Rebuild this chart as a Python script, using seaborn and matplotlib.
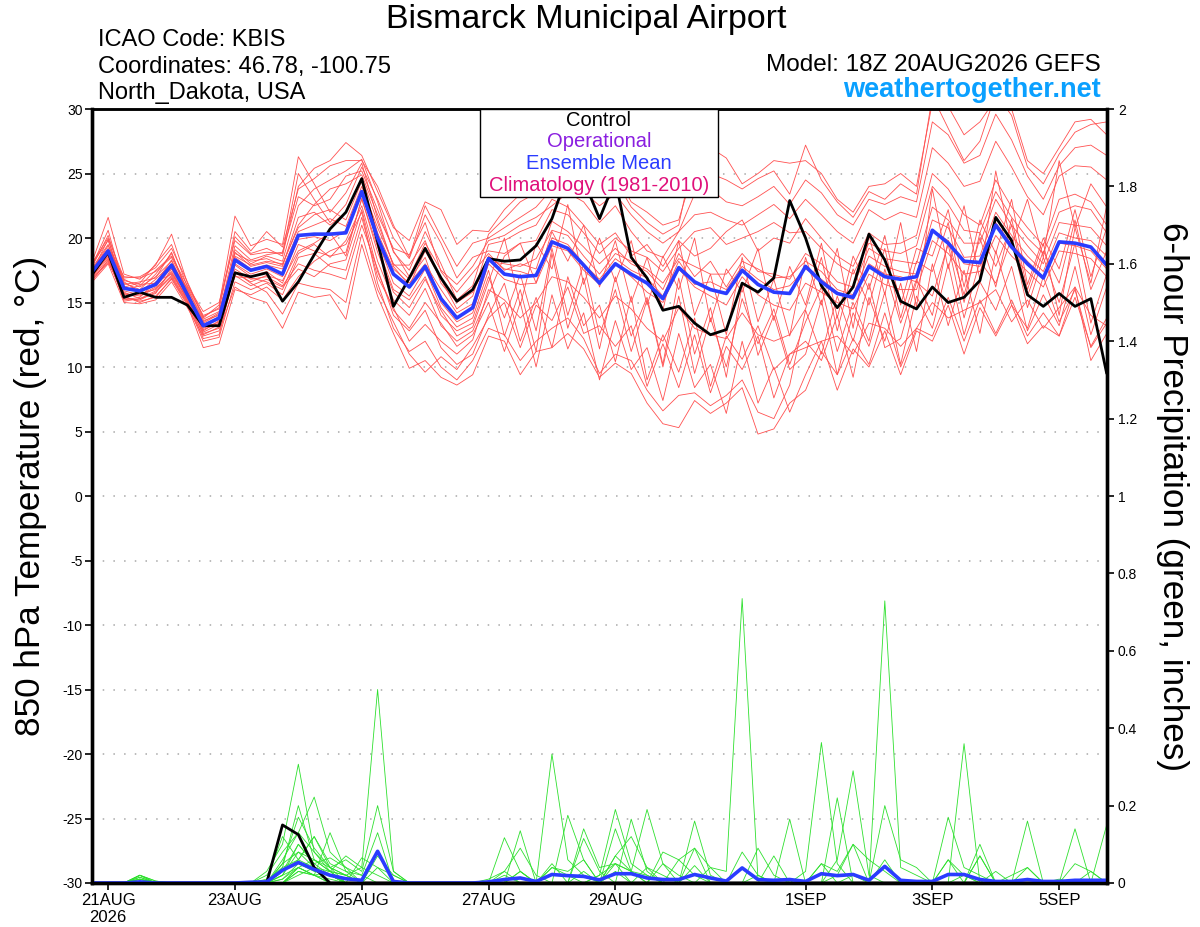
import matplotlib
matplotlib.use("Agg")
import matplotlib.pyplot as plt
from matplotlib.patches import Rectangle
import pandas as pd
import seaborn as sns

# ==========================================
# DATA (6-hourly steps, 20AUG 18Z -> 5SEP 18Z)
# ==========================================

steps = list(range(65))
tick_steps = [1, 9, 17, 25, 33, 45, 53, 61]
tick_labels = ["21AUG\n2026", "23AUG", "25AUG", "27AUG", "29AUG", "1SEP", "3SEP", "5SEP"]

temp_ticks = [30, 25, 20, 15, 10, 5, 0, -5, -10, -15, -20, -25, -30]
grid_levels = [25, 20, 15, 10, 5, 0, -5, -10, -15, -20, -25]
precip_ticks = [0, 0.2, 0.4, 0.6, 0.8, 1, 1.2, 1.4, 1.6, 1.8, 2]
precip_tick_labels = ["0", "0.2", "0.4", "0.6", "0.8", "1", "1.2", "1.4", "1.6", "1.8", "2"]

# control run, 850 hPa temperature (C)
control_temp = [17.2, 18.9, 15.4, 15.8, 15.4, 15.4, 14.8, 13.2, 13.2, 17.3, 17.0, 17.3, 15.1,
                16.6, 18.7, 20.7, 22.0, 24.6, 19.7, 14.7, 16.9, 19.2, 16.9, 15.1, 16.0,
                18.4, 18.2, 18.3, 19.4, 21.5, 25.0, 24.5, 21.5, 24.5, 18.5, 16.9, 14.4, 14.7,
                13.4, 12.5, 12.9, 16.5, 15.8, 16.9, 22.9, 20.0, 16.3, 14.6, 16.2, 20.3, 18.3,
                15.1, 14.5, 16.2, 15.0, 15.4, 16.7, 21.6, 19.8, 15.6, 14.7, 15.7, 14.7, 15.3, 9.5]

# ensemble mean, 850 hPa temperature (C)
mean_temp = [17.4, 19.0, 16.1, 15.9, 16.4, 17.9, 15.6, 13.2, 13.8, 18.3, 17.5, 17.8, 17.2,
             20.2, 20.3, 20.3, 20.4, 23.6, 20.0, 17.2, 16.2, 17.8, 15.3, 13.8, 14.6,
             18.4, 17.2, 17.0, 17.1, 19.7, 19.2, 17.9, 16.5, 18.0, 17.2, 16.5, 15.3, 17.7,
             16.6, 16.0, 15.7, 17.5, 16.4, 15.8, 15.7, 17.8, 16.6, 15.7, 15.4, 17.8, 17.0,
             16.8, 17.0, 20.6, 19.6, 18.2, 18.1, 21.0, 19.3, 18.0, 16.9, 19.7, 19.6, 19.3, 17.9]

# ensemble members, 850 hPa temperature (C)
t01 = [17.8, 20.2, 16.5, 16.0, 17.2, 18.8, 15.9, 13.0, 13.5, 19.1, 18.0, 18.6, 18.2,
       22.5, 23.8, 24.5, 25.2, 26.1, 22.8, 18.9, 17.5, 20.5, 18.0, 15.2, 16.3,
       20.3, 21.5, 22.8, 23.5, 24.8, 26.5, 25.4, 23.2, 24.5, 22.4, 21.2, 20.3, 21.0, 26.8, 25.0, 24.5, 23.8, 24.6, 25.2, 23.4,
       27.2, 24.5, 22.8, 21.6, 23.6, 23.0, 24.2, 23.4, 31.0, 28.5, 26.0, 27.5, 31.2, 29.5, 25.5, 24.2, 26.5, 28.2, 28.8, 29.0]
t02 = [17.0, 18.4, 15.3, 15.2, 15.8, 17.0, 15.0, 12.6, 13.0, 17.6, 16.8, 17.0, 16.3,
       18.0, 17.5, 17.2, 16.8, 21.0, 17.6, 14.0, 12.8, 14.4, 11.5, 10.2, 11.0,
       14.0, 16.5, 12.0, 15.4, 11.5, 17.0, 13.2, 14.8, 10.4, 15.5, 9.0, 12.5, 9.6, 13.8, 8.5, 12.4, 10.6, 13.2, 9.8, 11.0,
       12.0, 10.5, 14.0, 9.2, 15.4, 12.0, 16.5, 11.2, 18.0, 13.2, 17.5, 12.6, 19.0, 14.8, 13.0, 17.0, 13.5, 16.0, 11.5, 13.4]
t03 = [18.2, 21.6, 17.2, 16.8, 17.9, 20.3, 16.5, 13.8, 14.8, 21.7, 19.4, 19.9, 19.5,
       26.3, 24.2, 22.0, 23.5, 25.8, 21.5, 17.8, 16.3, 19.0, 16.8, 14.5, 15.5,
       19.5, 19.8, 20.5, 21.0, 23.0, 22.4, 21.0, 19.5, 20.4, 18.6, 19.5, 17.8, 19.8, 18.6, 19.2, 20.5, 21.4, 19.0, 20.0, 19.6,
       21.5, 20.0, 18.6, 17.8, 20.4, 19.5, 19.6, 20.2, 25.0, 23.8, 21.8, 21.0, 24.5, 22.4, 20.8, 19.4, 23.0, 23.4, 22.8, 21.0]
t04 = [16.6, 18.0, 15.0, 14.9, 15.2, 16.6, 14.6, 12.4, 12.8, 16.2, 15.4, 15.0, 13.0,
       15.8, 15.4, 15.6, 13.7, 19.5, 15.5, 12.6, 9.9, 10.5, 9.2, 8.6, 9.4,
       12.4, 12.0, 9.4, 11.2, 11.5, 12.6, 11.4, 9.2, 10.3, 9.5, 7.2, 5.6, 5.3, 7.4, 6.4, 7.2, 8.4, 4.8, 5.2, 7.2,
       8.2, 11.2, 9.4, 12.2, 10.2, 14.2, 10.0, 13.0, 12.4, 15.4, 12.0, 15.2, 12.6, 15.2, 12.4, 14.2, 12.4, 16.2, 10.5, 12.6]
t05 = [17.5, 19.4, 16.8, 16.2, 17.0, 18.2, 15.8, 13.5, 14.2, 18.8, 18.2, 18.4, 17.9,
       21.0, 22.6, 23.8, 24.2, 24.9, 21.8, 19.2, 18.7, 21.2, 17.4, 15.8, 17.3,
       18.8, 17.5, 18.0, 17.6, 21.3, 20.5, 19.3, 18.0, 19.2, 18.0, 17.4, 16.0, 18.8, 17.0, 18.2, 16.2, 18.2, 17.6, 16.9, 17.0,
       18.2, 17.4, 16.0, 15.6, 18.6, 17.8, 17.4, 17.2, 21.4, 20.8, 18.5, 18.6, 22.0, 20.2, 18.6, 17.4, 20.4, 20.0, 19.8, 18.6]
t06 = [17.3, 18.8, 15.6, 15.7, 16.0, 17.4, 15.2, 12.9, 13.4, 17.9, 17.0, 17.4, 16.5,
       19.5, 19.0, 18.6, 18.9, 23.0, 19.3, 16.0, 15.2, 17.0, 14.0, 12.8, 13.4,
       17.0, 13.8, 17.2, 12.8, 19.2, 14.0, 18.0, 12.5, 16.0, 11.2, 15.2, 10.0, 15.5, 9.5, 13.8, 10.0, 15.3, 11.8, 14.5, 10.2,
       13.5, 16.2, 11.2, 15.0, 12.0, 17.6, 13.4, 16.8, 14.0, 19.8, 15.6, 20.0, 16.2, 21.5, 16.0, 19.6, 14.0, 20.8, 16.5, 22.5]
t07 = [17.9, 20.6, 16.2, 16.5, 18.0, 19.5, 16.2, 14.0, 14.5, 20.1, 18.8, 19.2, 18.6,
       24.0, 25.4, 26.0, 27.4, 26.4, 23.6, 20.8, 19.8, 22.8, 22.2, 19.5, 20.6,
       20.5, 22.2, 23.4, 24.0, 25.1, 26.8, 25.8, 24.0, 25.0, 22.8, 22.0, 21.0, 21.4, 25.5, 27.0, 26.2, 24.2, 25.0, 26.0, 25.8,
       26.0, 25.0, 23.0, 22.0, 24.0, 24.2, 25.0, 24.0, 30.5, 30.2, 28.0, 29.0, 30.8, 30.0, 26.0, 25.0, 27.0, 29.0, 29.2, 28.0]
t08 = [16.9, 18.2, 15.5, 15.0, 15.5, 16.8, 14.8, 11.5, 11.8, 16.0, 15.6, 16.2, 15.2,
       17.0, 18.2, 19.0, 19.5, 22.0, 16.5, 13.0, 11.2, 12.0, 10.0, 9.0, 10.5,
       13.0, 12.5, 10.5, 12.0, 13.0, 13.8, 12.2, 9.5, 11.0, 10.5, 8.2, 6.6, 7.8, 8.0, 7.0, 7.8, 9.0, 6.5, 6.0, 8.6,
       14.4, 11.0, 15.5, 12.0, 16.5, 11.5, 12.2, 16.6, 15.5, 19.5, 13.8, 18.2, 16.5, 20.0, 14.6, 18.5, 15.0, 19.6, 13.4, 17.2]
t09 = [17.6, 19.2, 17.0, 16.9, 17.4, 18.5, 16.0, 13.6, 14.0, 18.5, 17.6, 17.9, 17.6,
       20.5, 21.0, 21.5, 20.9, 24.0, 20.8, 18.0, 16.8, 18.5, 15.0, 13.5, 14.2,
       18.0, 16.8, 16.4, 16.5, 19.4, 19.0, 17.5, 16.4, 18.0, 17.0, 15.8, 15.0, 17.6, 16.2, 15.5, 14.8, 17.0, 15.6, 14.8, 14.4,
       16.5, 15.8, 15.0, 14.5, 17.2, 16.4, 16.0, 16.0, 19.8, 18.8, 17.2, 17.4, 20.2, 18.6, 17.4, 16.2, 19.0, 18.8, 18.4, 17.0]
t10 = [17.1, 18.6, 15.2, 15.4, 16.6, 17.2, 15.3, 12.8, 13.6, 17.0, 16.9, 16.6, 16.0,
       18.8, 19.5, 18.5, 19.8, 22.5, 18.2, 15.2, 14.0, 16.1, 13.2, 12.0, 12.8,
       15.6, 18.6, 19.6, 16.5, 20.5, 18.2, 21.0, 16.2, 19.8, 15.0, 18.5, 14.4, 19.8, 14.0, 17.2, 12.5, 18.5, 13.5, 16.8, 12.4,
       18.5, 14.8, 19.2, 13.0, 20.2, 15.6, 21.2, 14.6, 23.8, 17.6, 22.5, 16.8, 25.2, 19.4, 23.0, 18.5, 26.0, 20.8, 24.2, 22.4]
t11 = [18.0, 19.8, 16.4, 16.6, 16.9, 18.9, 15.7, 13.4, 14.1, 19.4, 18.3, 18.7, 18.9,
       23.2, 22.5, 23.0, 24.8, 25.2, 22.2, 19.0, 17.0, 19.6, 17.5, 16.4, 17.8,
       19.8, 20.2, 21.0, 21.6, 22.5, 23.5, 22.8, 21.2, 22.5, 20.5, 19.0, 18.5, 20.5, 21.8, 22.0, 21.4, 21.0, 21.8, 22.6, 21.5,
       23.0, 21.8, 20.5, 19.6, 22.2, 21.4, 22.0, 21.6, 27.0, 25.8, 24.0, 24.4, 27.5, 25.5, 23.2, 21.8, 24.8, 25.6, 25.5, 24.5]
t12 = [16.8, 18.1, 15.8, 15.3, 15.7, 17.6, 15.1, 12.2, 12.5, 17.4, 16.5, 15.8, 14.1,
       16.5, 16.2, 16.0, 15.0, 20.3, 16.0, 13.5, 11.0, 9.6, 10.8, 9.8, 11.6,
       13.8, 15.0, 11.5, 14.8, 13.6, 16.2, 12.6, 13.2, 11.6, 13.2, 8.5, 11.8, 8.4, 12.5, 8.0, 11.6, 9.8, 12.4, 7.6, 11.0,
       11.5, 12.0, 12.4, 11.0, 13.4, 13.0, 11.6, 13.0, 15.0, 13.8, 14.4, 15.0, 16.0, 13.5, 15.2, 13.0, 14.6, 16.2, 14.0, 13.2]
t13 = [17.7, 19.5, 16.6, 15.8, 16.8, 18.0, 16.1, 13.7, 14.3, 18.6, 17.9, 18.2, 18.0,
       20.8, 21.8, 22.2, 21.4, 24.4, 20.4, 17.6, 16.5, 18.0, 16.0, 14.2, 14.9,
       18.6, 17.6, 17.4, 17.0, 20.0, 19.5, 18.0, 16.8, 18.4, 17.5, 16.9, 15.5, 18.2, 16.4, 16.6, 16.0, 17.8, 16.8, 16.0, 16.3,
       17.6, 16.8, 15.8, 15.2, 18.0, 17.2, 17.0, 16.6, 20.6, 19.8, 18.0, 17.8, 21.2, 19.5, 18.2, 17.0, 19.6, 19.4, 19.0, 17.6]
t14 = [17.2, 18.9, 15.9, 15.6, 16.2, 17.7, 15.5, 13.1, 13.9, 18.0, 17.2, 17.6, 17.0,
       19.9, 20.1, 19.8, 20.6, 23.4, 19.8, 16.5, 15.5, 17.6, 14.6, 13.1, 13.8,
       17.5, 12.4, 16.0, 11.2, 18.8, 13.0, 16.9, 11.4, 17.0, 12.4, 15.4, 10.2, 16.9, 11.0, 14.6, 9.2, 16.4, 10.9, 14.0, 9.8,
       11.0, 15.2, 9.4, 14.2, 11.6, 15.8, 10.2, 15.5, 13.0, 18.0, 12.5, 16.6, 14.4, 17.8, 12.8, 15.6, 13.2, 17.8, 12.5, 16.2]
t15 = [17.4, 19.9, 16.0, 16.3, 17.5, 18.6, 16.3, 14.3, 15.0, 19.8, 18.7, 18.9, 18.8,
       25.0, 23.0, 21.2, 22.6, 25.5, 23.0, 20.0, 18.4, 21.8, 19.6, 16.9, 18.5,
       19.0, 18.8, 19.6, 19.8, 22.2, 21.8, 20.4, 18.8, 20.0, 19.0, 18.5, 17.4, 19.2, 20.5, 20.8, 19.5, 20.0, 20.5, 21.2, 20.4,
       20.5, 19.2, 18.0, 17.2, 19.6, 19.0, 18.8, 19.4, 24.0, 22.6, 20.6, 20.4, 23.6, 21.6, 20.0, 18.8, 22.0, 22.5, 22.2, 20.4]
t16 = [16.7, 18.3, 15.4, 15.1, 15.4, 16.9, 14.9, 12.0, 12.3, 16.6, 16.0, 16.5, 15.6,
       18.5, 18.8, 17.8, 17.5, 21.6, 17.0, 14.6, 12.0, 13.3, 12.0, 11.0, 12.1,
       16.0, 15.2, 13.8, 15.0, 17.0, 16.6, 15.4, 13.8, 15.5, 14.5, 13.0, 12.0, 14.6, 13.0, 12.5, 12.2, 14.2, 12.5, 12.0, 12.5,
       14.5, 18.5, 12.8, 17.6, 14.8, 19.2, 13.8, 18.2, 17.4, 21.2, 15.0, 20.4, 17.8, 21.0, 15.5, 19.0, 16.5, 21.4, 16.0, 19.0]
t17 = [17.6, 19.1, 16.7, 16.4, 16.5, 18.3, 15.6, 13.3, 13.7, 18.9, 17.8, 18.1, 17.8,
       21.6, 22.0, 21.0, 22.0, 24.7, 21.2, 17.9, 17.9, 19.8, 16.5, 15.0, 15.8,
       18.2, 18.0, 17.8, 18.4, 20.6, 20.2, 18.6, 17.2, 18.8, 18.2, 17.6, 16.5, 18.4, 17.8, 17.2, 17.2, 18.8, 17.4, 17.2, 16.8,
       18.8, 18.0, 16.6, 16.2, 19.2, 18.4, 18.2, 18.0, 22.4, 21.4, 19.6, 19.6, 23.0, 21.0, 19.4, 18.0, 21.2, 21.0, 20.8, 19.4]
t18 = [17.0, 18.7, 15.7, 15.5, 16.1, 17.3, 15.4, 12.7, 13.3, 17.3, 16.6, 17.1, 16.7,
       19.0, 19.6, 20.4, 18.6, 23.1, 18.9, 15.8, 14.6, 16.8, 14.4, 12.4, 13.1,
       16.6, 20.0, 14.8, 19.6, 17.6, 22.6, 16.4, 20.0, 16.6, 19.8, 14.8, 18.6, 16.0, 20.0, 13.5, 17.6, 15.8, 19.2, 13.6, 17.8,
       14.8, 19.6, 13.8, 18.6, 16.0, 20.2, 14.8, 19.2, 18.6, 22.2, 16.2, 21.4, 18.8, 23.0, 16.4, 20.0, 17.6, 22.2, 17.0, 20.8]
t19 = [18.1, 20.0, 16.9, 17.0, 17.7, 19.2, 16.6, 13.9, 14.6, 20.5, 19.0, 20.5, 19.3,
       23.8, 24.6, 25.6, 26.0, 26.0, 24.0, 21.0, 18.5, 22.5, 20.1, 17.8, 19.6,
       20.0, 20.8, 21.6, 22.4, 23.8, 25.0, 23.6, 22.5, 23.4, 21.8, 20.5, 19.6, 20.5, 23.4, 23.8, 22.8, 22.5, 23.2, 24.0, 22.6,
       24.5, 23.5, 21.8, 21.0, 23.0, 22.6, 23.2, 22.8, 29.0, 28.0, 25.8, 26.4, 29.6, 27.6, 24.8, 23.0, 25.6, 27.0, 27.2, 26.4]
t20 = [17.3, 18.5, 15.1, 15.3, 15.9, 17.1, 15.1, 12.5, 13.1, 17.1, 16.3, 16.8, 16.2,
       17.6, 17.0, 18.0, 18.3, 22.2, 17.4, 14.4, 13.0, 15.0, 13.4, 11.6, 12.5,
       15.0, 11.2, 15.0, 10.0, 15.6, 11.4, 14.2, 9.0, 13.6, 9.8, 11.5, 7.4, 12.6, 8.4, 10.2, 6.4, 12.0, 7.2, 10.0, 6.5,
       9.4, 12.0, 8.2, 11.4, 10.0, 12.8, 9.4, 12.8, 12.0, 14.8, 11.0, 14.6, 12.4, 14.8, 11.8, 13.2, 12.4, 15.4, 11.6, 13.8]

temp_members = [t01, t02, t03, t04, t05, t06, t07, t08, t09, t10,
                t11, t12, t13, t14, t15, t16, t17, t18, t19, t20]

# control run, 6-hour precipitation (inches)
control_precip = [0, 0, 0, 0, 0, 0, 0, 0, 0, 0, 0, 0, 0.15,
                  0.125, 0.04, 0, 0, 0, 0, 0, 0, 0, 0, 0, 0, 0,
                  0, 0, 0, 0, 0, 0, 0, 0, 0, 0, 0, 0, 0,
                  0, 0, 0, 0, 0, 0, 0, 0, 0, 0, 0, 0, 0,
                  0, 0, 0, 0, 0, 0, 0, 0, 0, 0, 0, 0, 0]

# ensemble mean, 6-hour precipitation (inches)
mean_precip = [0, 0, 0, 0.003, 0, 0, 0, 0, 0, 0, 0.002, 0.003, 0.033,
               0.053, 0.035, 0.02, 0.011, 0.007, 0.082, 0.004, 0, 0, 0, 0, 0, 0.003,
               0.009, 0.013, 0.004, 0.022, 0.019, 0.017, 0.008, 0.024, 0.024, 0.013, 0.009, 0.009, 0.022,
               0.013, 0.005, 0.039, 0.009, 0.007, 0.009, 0.004, 0.024, 0.019, 0.022, 0.007, 0.043, 0.007,
               0.004, 0.004, 0.022, 0.022, 0.009, 0.004, 0.004, 0.009, 0.004, 0.004, 0.007, 0.007, 0.007]

# ensemble members, 6-hour precipitation (inches)
p01 = [0, 0, 0, 0.02, 0.005, 0, 0, 0, 0, 0, 0, 0.01, 0.12,
       0.06, 0.04, 0.02, 0, 0, 0.04, 0, 0, 0, 0, 0, 0, 0,
       0, 0.03, 0, 0.333, 0.06, 0.02, 0, 0.05, 0.03, 0, 0, 0, 0.045,
       0, 0, 0.08, 0.02, 0, 0, 0, 0.05, 0, 0, 0, 0.06, 0,
       0, 0, 0.06, 0, 0, 0, 0, 0.04, 0, 0, 0, 0, 0]
p02 = [0, 0, 0, 0.015, 0, 0, 0, 0, 0, 0, 0, 0, 0.05,
       0.08, 0.06, 0.03, 0.02, 0, 0, 0, 0, 0, 0, 0, 0, 0,
       0, 0, 0, 0.04, 0.03, 0.06, 0, 0.07, 0.12, 0.04, 0, 0, 0,
       0, 0, 0, 0, 0, 0, 0, 0, 0.06, 0.29, 0.02, 0, 0,
       0, 0, 0, 0, 0.07, 0, 0, 0, 0, 0, 0, 0.03, 0]
p03 = [0, 0, 0, 0.02, 0, 0, 0, 0, 0, 0, 0, 0.02, 0.08,
       0.13, 0.08, 0.04, 0.02, 0.04, 0.5, 0.03, 0, 0, 0, 0, 0, 0,
       0, 0, 0, 0, 0, 0, 0.02, 0.05, 0, 0, 0, 0, 0,
       0, 0, 0, 0.09, 0.02, 0, 0, 0, 0, 0, 0, 0, 0,
       0, 0, 0, 0, 0, 0, 0, 0, 0, 0, 0, 0, 0]
p04 = [0, 0, 0, 0.01, 0, 0, 0, 0, 0, 0, 0, 0, 0.03,
       0.1, 0.05, 0.065, 0.04, 0, 0.07, 0.02, 0, 0, 0, 0, 0, 0,
       0, 0, 0, 0.05, 0, 0.03, 0, 0.14, 0.03, 0.19, 0.05, 0, 0,
       0, 0, 0, 0, 0, 0, 0, 0, 0, 0.02, 0, 0, 0,
       0, 0, 0, 0.02, 0, 0, 0, 0.16, 0, 0, 0, 0, 0]
p05 = [0, 0, 0, 0.02, 0.005, 0, 0, 0, 0, 0, 0, 0.005, 0.04,
       0.06, 0.12, 0.05, 0.03, 0.02, 0.13, 0, 0, 0, 0, 0, 0, 0,
       0, 0, 0, 0, 0, 0, 0, 0, 0, 0, 0, 0, 0.09,
       0.04, 0.03, 0.735, 0.01, 0, 0, 0, 0, 0, 0, 0, 0, 0,
       0, 0, 0, 0, 0, 0, 0, 0, 0, 0.01, 0, 0, 0]
p06 = [0, 0, 0, 0.01, 0, 0, 0, 0, 0, 0, 0, 0, 0,
       0.04, 0.02, 0, 0, 0.065, 0.04, 0.02, 0, 0, 0, 0, 0, 0,
       0, 0.03, 0, 0, 0, 0, 0, 0.07, 0.03, 0, 0.05, 0.02, 0,
       0, 0, 0, 0, 0, 0, 0, 0.05, 0.03, 0.1, 0, 0.2, 0.06,
       0.04, 0, 0, 0, 0, 0, 0, 0, 0, 0, 0.14, 0, 0]
p07 = [0, 0, 0, 0.015, 0, 0, 0, 0, 0, 0, 0, 0.03, 0.1,
       0.307, 0.08, 0.03, 0.02, 0, 0, 0, 0, 0, 0, 0, 0, 0,
       0.03, 0.09, 0.02, 0, 0, 0, 0, 0, 0, 0, 0.08, 0.06, 0.09,
       0, 0, 0, 0, 0.07, 0, 0, 0, 0, 0, 0, 0, 0,
       0, 0, 0, 0, 0, 0, 0, 0, 0, 0, 0, 0, 0]
p08 = [0, 0, 0, 0, 0, 0, 0, 0, 0, 0, 0, 0, 0.02,
       0.04, 0.06, 0.03, 0.07, 0.04, 0.02, 0, 0, 0, 0, 0, 0, 0,
       0, 0, 0, 0, 0, 0, 0, 0, 0, 0, 0, 0, 0,
       0.04, 0, 0, 0, 0, 0, 0.03, 0.363, 0.05, 0, 0, 0, 0,
       0, 0, 0, 0, 0, 0, 0, 0, 0, 0, 0, 0, 0]
p09 = [0, 0, 0, 0, 0, 0, 0, 0, 0, 0, 0, 0, 0.06,
       0.13, 0.222, 0.08, 0.04, 0.02, 0, 0, 0, 0, 0, 0, 0, 0,
       0, 0, 0, 0.04, 0.02, 0, 0, 0.03, 0, 0, 0, 0, 0,
       0, 0, 0, 0, 0, 0, 0, 0, 0, 0, 0, 0, 0,
       0, 0, 0.06, 0.02, 0, 0, 0, 0, 0, 0, 0, 0, 0.15]
p10 = [0, 0, 0, 0.01, 0, 0, 0, 0, 0, 0, 0, 0, 0.02,
       0.08, 0.04, 0.02, 0, 0, 0, 0, 0, 0, 0, 0, 0, 0,
       0.02, 0, 0, 0, 0, 0, 0.02, 0.19, 0.05, 0.02, 0, 0, 0,
       0, 0, 0, 0, 0, 0, 0, 0, 0.02, 0.1, 0.06, 0.03, 0,
       0, 0, 0, 0, 0, 0, 0, 0, 0, 0, 0, 0, 0]
p11 = [0, 0, 0, 0, 0, 0, 0, 0, 0, 0, 0, 0, 0,
       0.02, 0.04, 0.03, 0, 0, 0, 0, 0, 0, 0, 0, 0, 0,
       0, 0, 0, 0, 0, 0, 0, 0, 0, 0, 0, 0, 0,
       0, 0, 0, 0, 0, 0, 0, 0, 0, 0, 0, 0.729, 0.04,
       0.02, 0, 0, 0, 0, 0, 0, 0, 0, 0, 0, 0, 0]
p12 = [0, 0, 0, 0.02, 0, 0, 0, 0, 0, 0, 0, 0, 0.04,
       0.2, 0.06, 0.04, 0, 0, 0, 0, 0, 0, 0, 0, 0, 0,
       0, 0, 0, 0, 0, 0, 0, 0, 0, 0, 0, 0, 0.16,
       0.02, 0, 0, 0, 0, 0, 0, 0, 0, 0, 0, 0, 0,
       0, 0, 0, 0, 0, 0, 0.02, 0.04, 0, 0, 0, 0, 0]
p13 = [0, 0, 0, 0, 0, 0, 0, 0, 0, 0, 0, 0, 0.03,
       0.06, 0.12, 0.04, 0.02, 0, 0, 0, 0, 0, 0, 0, 0, 0.01,
       0.03, 0, 0, 0, 0.175, 0.06, 0, 0, 0, 0, 0, 0, 0,
       0, 0, 0, 0, 0, 0, 0, 0, 0, 0, 0, 0, 0,
       0, 0, 0, 0, 0, 0.03, 0, 0, 0, 0, 0, 0, 0]
p14 = [0, 0, 0, 0, 0, 0, 0, 0, 0, 0, 0, 0, 0.01,
       0.04, 0.02, 0, 0, 0, 0.08, 0, 0, 0, 0, 0, 0, 0,
       0, 0, 0, 0, 0, 0, 0, 0, 0, 0.04, 0.02, 0, 0,
       0, 0, 0, 0.02, 0, 0, 0, 0, 0, 0, 0, 0, 0,
       0, 0, 0, 0.36, 0, 0, 0, 0, 0, 0, 0, 0, 0]
p15 = [0, 0, 0, 0.01, 0, 0, 0, 0, 0, 0, 0, 0, 0.05,
       0.17, 0.09, 0.04, 0.06, 0.03, 0.2, 0.03, 0, 0, 0, 0, 0, 0,
       0.117, 0.03, 0, 0, 0, 0, 0, 0, 0, 0, 0, 0, 0,
       0, 0, 0, 0, 0, 0, 0, 0, 0, 0, 0, 0, 0,
       0, 0, 0, 0, 0, 0, 0, 0, 0, 0, 0, 0, 0]
p16 = [0, 0, 0, 0, 0, 0, 0, 0, 0, 0, 0, 0, 0,
       0.04, 0.02, 0.03, 0, 0, 0, 0, 0, 0, 0, 0, 0, 0,
       0, 0, 0, 0, 0, 0.115, 0.03, 0, 0, 0, 0, 0, 0,
       0, 0, 0, 0, 0, 0, 0, 0, 0.22, 0, 0, 0, 0,
       0, 0, 0, 0, 0, 0, 0, 0, 0, 0, 0, 0, 0]
p17 = [0, 0, 0, 0, 0, 0, 0, 0, 0, 0, 0, 0, 0.02,
       0.1, 0.05, 0.02, 0, 0, 0, 0, 0, 0, 0, 0, 0, 0,
       0, 0, 0, 0, 0, 0.14, 0.04, 0.05, 0.03, 0.02, 0, 0.06, 0.02,
       0, 0, 0, 0, 0, 0, 0, 0, 0, 0, 0, 0, 0,
       0, 0, 0, 0, 0.1, 0, 0, 0, 0, 0, 0, 0, 0]
p18 = [0, 0, 0, 0, 0, 0, 0, 0, 0, 0, 0, 0, 0.01,
       0.05, 0.03, 0.02, 0, 0, 0, 0, 0, 0, 0, 0, 0, 0,
       0, 0.135, 0, 0, 0, 0, 0, 0, 0, 0, 0, 0, 0,
       0, 0, 0, 0, 0, 0, 0, 0, 0, 0, 0, 0, 0,
       0, 0, 0.17, 0.04, 0.02, 0, 0, 0, 0, 0, 0, 0, 0]
p19 = [0, 0, 0, 0, 0, 0, 0, 0, 0, 0, 0, 0, 0,
       0.03, 0.02, 0.01, 0, 0, 0, 0, 0, 0, 0, 0, 0, 0,
       0, 0, 0, 0, 0, 0, 0, 0, 0.165, 0.03, 0, 0, 0,
       0, 0, 0, 0, 0, 0, 0, 0, 0, 0, 0, 0, 0,
       0, 0, 0, 0, 0.07, 0, 0, 0, 0, 0, 0.05, 0.03, 0]
p20 = [0, 0, 0, 0, 0, 0, 0, 0, 0, 0, 0, 0, 0,
       0.03, 0.02, 0.13, 0.03, 0, 0, 0, 0, 0, 0, 0, 0, 0,
       0, 0, 0, 0, 0, 0, 0, 0, 0, 0, 0, 0, 0,
       0, 0, 0, 0, 0, 0.165, 0, 0, 0, 0, 0, 0, 0,
       0, 0, 0, 0, 0, 0, 0, 0, 0, 0, 0, 0, 0]

precip_members = [p01, p02, p03, p04, p05, p06, p07, p08, p09, p10,
                  p11, p12, p13, p14, p15, p16, p17, p18, p19, p20]

# ==========================================
# LONG-FORM TABLES FOR SEABORN
# ==========================================

temp_df = pd.DataFrame(
    [(m, s, v) for m, vals in enumerate(temp_members) for s, v in zip(steps, vals)],
    columns=["member", "step", "value"]
)
precip_df = pd.DataFrame(
    [(m, s, v) for m, vals in enumerate(precip_members) for s, v in zip(steps, vals)],
    columns=["member", "step", "value"]
)

# ==========================================
# PLOT
# ==========================================

sns.set_theme(style="white")
plt.rcParams["font.family"] = ["Liberation Sans", "DejaVu Sans"]
plt.rcParams["axes.unicode_minus"] = False
plt.rcParams["text.color"] = "black"

W, H = 1200, 927
fig = plt.figure(figsize=(12, 9.27), dpi=100)
ax = fig.add_axes([92.3 / W, 1 - 883 / H, (1106.7 - 92.3) / W, (883 - 109) / H])
ax2 = ax.twinx()

# temperature
for lvl in grid_levels:
    ax.axhline(lvl, color="#a8a8a8", lw=1.1, linestyle=(0, (1, 6)), zorder=0)

sns.lineplot(data=temp_df, x="step", y="value", units="member", estimator=None,
             color="#ff5050", lw=0.6, ax=ax, legend=False)
sns.lineplot(x=steps, y=control_temp, color="black", lw=2.0, ax=ax)
sns.lineplot(x=steps, y=mean_temp, color="#2a3cff", lw=2.6, ax=ax)

# precipitation
sns.lineplot(data=precip_df, x="step", y="value", units="member", estimator=None,
             color="#2ee02e", lw=0.6, ax=ax2, legend=False)
sns.lineplot(x=steps, y=control_precip, color="black", lw=2.0, ax=ax2)
sns.lineplot(x=steps, y=mean_precip, color="#2a3cff", lw=2.6, ax=ax2)

ax.set_xlim(0, 64)
ax.set_ylim(-30, 30)
ax2.set_ylim(0, 2)

ax.set_xticks(tick_steps)
ax.set_xticklabels(tick_labels, fontsize=12)
ax.set_yticks(temp_ticks)
ax.set_yticklabels([str(t) for t in temp_ticks], fontsize=10)
ax2.set_yticks(precip_ticks)
ax2.set_yticklabels(precip_tick_labels, fontsize=10)

ax.tick_params(axis="x", bottom=True, direction="out", length=5, width=1.2, pad=2, colors="black")
ax.tick_params(axis="y", left=True, direction="out", length=5, width=1.2, pad=2, colors="black")
ax2.tick_params(axis="y", right=True, direction="out", length=5, width=1.2, pad=3, colors="black")

ax.set_xlabel("")
ax.set_ylabel("")
ax2.set_ylabel("")

for a in (ax, ax2):
    for side in ("left", "right", "bottom"):
        a.spines[side].set_linewidth(2.4)
        a.spines[side].set_color("black")
    a.spines["top"].set_linewidth(1.8)
    a.spines["top"].set_color("black")

# legend box
ax2.add_patch(Rectangle((0.3822, 0.8863), 0.6168 - 0.3822, 1 - 0.8863,
                        transform=ax2.transAxes, facecolor="white",
                        edgecolor="black", lw=1.0, zorder=10))
legend_items = [("Control", "black", 0.9845),
                ("Operational", "#8a1ee0", 0.9574),
                ("Ensemble Mean", "#2a3cff", 0.9302),
                ("Climatology (1981-2010)", "#e0107a", 0.9018)]
for label, col, yy in legend_items:
    ax2.text(0.4995, yy, label, transform=ax2.transAxes, color=col,
             ha="center", va="center", fontsize=14.5, zorder=11)

# header texts
fig.text(586 / W, 1 - 28 / H, "Bismarck Municipal Airport", ha="center", va="baseline",
         fontsize=24.5, color="black")
fig.text(98 / W, 1 - 46.5 / H, "ICAO Code: KBIS", ha="left", va="baseline", fontsize=17, color="black")
fig.text(98 / W, 1 - 73.5 / H, "Coordinates: 46.78, -100.75", ha="left", va="baseline", fontsize=17, color="black")
fig.text(98 / W, 1 - 99.5 / H, "North_Dakota, USA", ha="left", va="baseline", fontsize=17, color="black")
fig.text(1101 / W, 1 - 71 / H, "Model: 18Z 20AUG2026 GEFS", ha="right", va="baseline",
         fontsize=17.5, color="black")
fig.text(1101 / W, 1 - 97 / H, "weathertogether.net", ha="right", va="baseline",
         fontsize=19.5, fontweight="bold", color="#0aa0ff")

# axis titles
fig.text(31 / W, 1 - 496 / H, "850 hPa Temperature (red, \u00b0C)", rotation=90,
         ha="center", va="center", fontsize=25.3, color="black")
fig.text(1172 / W, 1 - 496 / H, "6-hour Precipitation (green, inches)", rotation=-90,
         ha="center", va="center", fontsize=25.3, color="black")

fig.savefig("out.png", dpi=100)
